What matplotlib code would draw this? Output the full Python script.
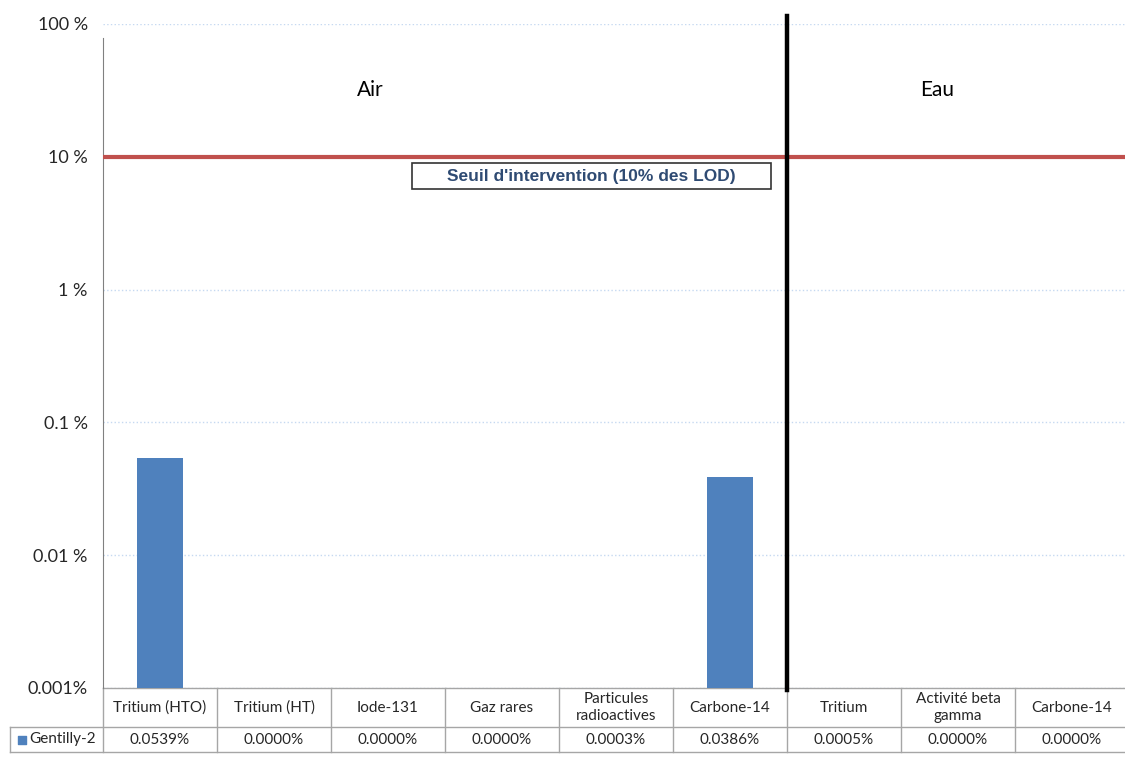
import numpy as np
import matplotlib.pyplot as plt
from matplotlib.patches import Rectangle
from matplotlib.transforms import blended_transform_factory
from matplotlib.ticker import FixedLocator, NullLocator

plt.rcParams['font.family'] = ['Lato', 'DejaVu Sans']

# Rejets de Gentilly-2 en % des LOD
categories = ['Tritium (HTO)', 'Tritium (HT)', 'Iode-131', 'Gaz rares',
              'Particules\nradioactives', 'Carbone-14', 'Tritium',
              'Activité beta\ngamma', 'Carbone-14']
gentilly2 = [0.0539, 0.0, 0.0, 0.0, 0.0003, 0.0386, 0.0005, 0.0, 0.0]
series_name = 'Gentilly-2'
seuil = 10.0
yticks = [0.001, 0.01, 0.1, 1, 10, 100]
ytick_labels = ['0.001%', '0.01 %', '0.1 %', '1 %', '10 %', '100 %']
n_air = 6

W, H = 1125, 757
fig = plt.figure(figsize=(W / 100, H / 100), dpi=100)
left, right, top, bottom = 103, 1129, 24, 688
ax = fig.add_axes([left / W, 1 - bottom / H, (right - left) / W, (bottom - top) / H])

y_min, y_max = yticks[0], yticks[-1]
x = np.arange(len(categories))
vals = np.array(gentilly2)
ax.bar(x, np.maximum(vals - y_min, 0), bottom=y_min, width=0.4,
       color='#4f81bd', zorder=3)

ax.set_yscale('log')
ax.set_ylim(y_min, y_max)
ax.set_xlim(-0.5, len(categories) - 0.5)
ax.yaxis.set_major_locator(FixedLocator(yticks))
ax.yaxis.set_minor_locator(NullLocator())
ax.set_yticklabels(ytick_labels, fontsize=13, color='#262626')
ax.tick_params(axis='y', length=0, pad=11)
ax.set_xticks([])
ax.grid(axis='y', color='#c6d9f1', linestyle=':', linewidth=1.0, zorder=0)

for s in ['top', 'right', 'bottom']:
    ax.spines[s].set_visible(False)
ax.spines['left'].set_color('#808080')
ax.spines['left'].set_bounds(y_min, 78)

# seuil d'intervention et séparation air / eau
ax.axhline(seuil, color='#c0504d', linewidth=3.0, zorder=4)
ax.axvline(n_air - 0.5, ymin=-0.003, ymax=1.012, color='black',
           linewidth=3.2, zorder=5, clip_on=False)
ax.text(1.84, 31.7, 'Air', fontsize=15, ha='center', va='center')
ax.text(6.82, 31.7, 'Eau', fontsize=15, ha='center', va='center')

ax.add_patch(Rectangle((2.21, 5.69), 5.36 - 2.21, 8.93 - 5.69,
                       facecolor='white', edgecolor='#333333',
                       linewidth=1.2, zorder=6))
ax.text(3.785, 7.13, "Seuil d'intervention (10% des LOD)", fontsize=12.5,
        family='Liberation Sans', fontweight='bold', color='#2f4b73',
        ha='center', va='center', zorder=7)

# tableau de données sous le graphique
tr = blended_transform_factory(ax.transData, ax.transAxes)
ax_h = bottom - top
h1, h2 = 39 / ax_h, 25 / ax_h
col_w = (right - left) / len(categories)
x_leg = -0.5 - (left - 10) / col_w
grid_c = '#a6a6a6'
n = len(categories)
kw = dict(transform=tr, clip_on=False, color=grid_c, linewidth=1.0)
ax.plot([-0.5, n - 0.5], [0, 0], **kw)
ax.plot([x_leg, n - 0.5], [-h1, -h1], **kw)
ax.plot([x_leg, n - 0.5], [-h1 - h2, -h1 - h2], **kw)
for i in range(n + 1):
    ax.plot([i - 0.5, i - 0.5], [0, -h1 - h2], **kw)
ax.plot([x_leg, x_leg], [-h1, -h1 - h2], **kw)

for i, (cat, v) in enumerate(zip(categories, gentilly2)):
    ax.text(i, -h1 / 2, cat, transform=tr, ha='center', va='center',
            fontsize=11, color='#262626', linespacing=1.3)
    ax.text(i, -h1 - h2 / 2, f'{v:.4f}%', transform=tr, ha='center',
            va='center', fontsize=11, color='#262626')

ax.scatter([x_leg + 11.5 / col_w], [-h1 - h2 / 2], marker='s', s=30,
           color='#4f81bd', transform=tr, clip_on=False)
ax.text(x_leg + 19 / col_w, -h1 - h2 / 2, series_name, transform=tr,
        ha='left', va='center', fontsize=11, color='#262626')

fig.savefig('out.png', dpi=100)
